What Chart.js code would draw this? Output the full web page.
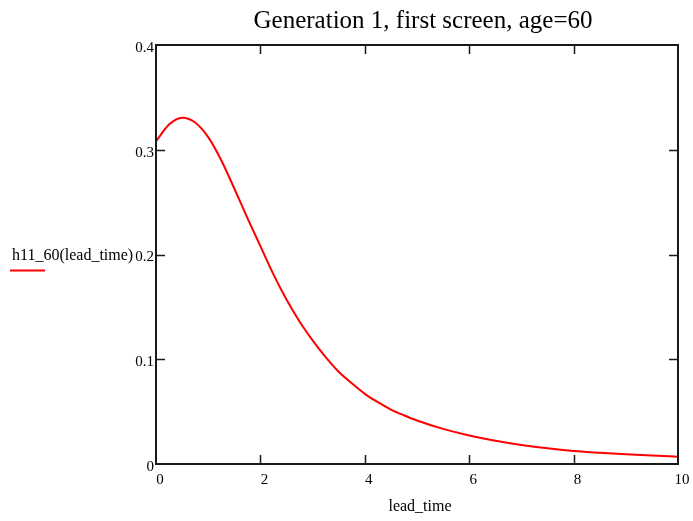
<!DOCTYPE html>
<html>
<head>
<meta charset="utf-8">
<script src="https://cdn.jsdelivr.net/npm/chart.js@4.4.1/dist/chart.umd.min.js"></script>
<style>
  html, body { margin: 0; padding: 0; background: #ffffff; }
  #wrap { width: 693px; height: 521px; }
</style>
</head>
<body>
<div id="wrap"><canvas id="c" width="693" height="521"></canvas></div>
<script>
// ---- Data ----
const chartTitle = "Generation 1, first screen, age=60";
const xAxisLabel = "lead_time";
const seriesLabel = "h11_60(lead_time)";
const leadTime = [0, 0.25, 0.5, 0.75, 1.0, 1.25, 1.5, 1.75, 2.0, 2.25, 2.5, 2.75, 3.0, 3.25, 3.5, 3.75, 4.0, 4.25, 4.5, 4.75, 5.0, 5.5, 6.0, 6.5, 7.0, 7.5, 8.0, 8.5, 9.0, 9.5, 10.0];
const h11Values = [0.308, 0.324, 0.3305, 0.326, 0.312, 0.290, 0.263, 0.235, 0.208, 0.181, 0.157, 0.136, 0.118, 0.102, 0.088, 0.077, 0.067, 0.059, 0.052, 0.0465, 0.0415, 0.0335, 0.0272, 0.0222, 0.0182, 0.015, 0.0125, 0.0107, 0.0092, 0.008, 0.007];
const xTickValues = [0, 2, 4, 6, 8, 10];
const xTickLabels = ["0", "2", "4", "6", "8", "10"];
const yTickValues = [0, 0.1, 0.2, 0.3, 0.4];
const yTickLabels = ["0", "0.1", "0.2", "0.3", "0.4"];

const SERIF = "'Liberation Serif', 'Times New Roman', Times, serif";

const points = leadTime.map((x, i) => ({ x: x, y: h11Values[i] }));

function labelFor(values, labels, v) {
  for (let i = 0; i < values.length; i++) {
    if (Math.abs(values[i] - v) < 1e-9) return labels[i];
  }
  return "";
}

const framePlugin = {
  id: "framePlugin",
  afterDraw(chart) {
    const ctx = chart.ctx;
    const a = chart.chartArea;
    const xs = chart.scales.x, ys = chart.scales.y;
    ctx.save();
    // frame
    ctx.strokeStyle = "#1a1a1a";
    ctx.lineWidth = 2;
    ctx.strokeRect(a.left, a.top, a.right - a.left, a.bottom - a.top);
    // inward ticks
    ctx.lineWidth = 1.5;
    ctx.beginPath();
    const tl = 9;
    xTickValues.forEach(v => {
      if (v === xTickValues[0] || v === xTickValues[xTickValues.length - 1]) return;
      const px = Math.round(xs.getPixelForValue(v)) + 0.5;
      ctx.moveTo(px, a.bottom); ctx.lineTo(px, a.bottom - tl);
      ctx.moveTo(px, a.top); ctx.lineTo(px, a.top + tl);
    });
    yTickValues.forEach(v => {
      if (v === yTickValues[0] || v === yTickValues[yTickValues.length - 1]) return;
      const py = Math.round(ys.getPixelForValue(v)) + 0.5;
      ctx.moveTo(a.left, py); ctx.lineTo(a.left + tl, py);
      ctx.moveTo(a.right, py); ctx.lineTo(a.right - tl, py);
    });
    ctx.stroke();

    // title
    ctx.fillStyle = "#000";
    ctx.font = "25px " + SERIF;
    ctx.textAlign = "center";
    ctx.textBaseline = "alphabetic";
    ctx.fillText(chartTitle, 423, 28);

    // x axis label
    ctx.font = "16px " + SERIF;
    ctx.fillText(xAxisLabel, 420, 511);

    // series label at left with legend line
    ctx.font = "16px " + SERIF;
    ctx.textAlign = "left";
    ctx.fillText(seriesLabel, 12, 260);
    ctx.strokeStyle = "#ff0000";
    ctx.lineWidth = 2;
    ctx.beginPath();
    ctx.moveTo(10, 270.5); ctx.lineTo(45, 270.5);
    ctx.stroke();
    ctx.restore();
  }
};

new Chart(document.getElementById("c"), {
  type: "line",
  data: {
    datasets: [{
      label: seriesLabel,
      data: points,
      borderColor: "#ff0000",
      backgroundColor: "#ff0000",
      borderWidth: 2,
      pointRadius: 0,
      fill: false,
      cubicInterpolationMode: "monotone"
    }]
  },
  options: {
    responsive: false,
    animation: false,
    devicePixelRatio: 1,
    layout: { padding: { left: 0, top: 45, right: 15, bottom: 0 } },
    plugins: {
      legend: { display: false },
      title: { display: false },
      tooltip: { enabled: false }
    },
    scales: {
      x: {
        type: "linear",
        min: 0, max: 10,
        afterFit(s) { s.height = 57; },
        afterBuildTicks(s) { s.ticks = xTickValues.map(v => ({ value: v })); },
        grid: { display: false, drawTicks: false },
        border: { display: false },
        ticks: {
          color: "#000",
          font: { family: SERIF, size: 15 },
          padding: 7,
          labelOffset: 4,
          maxRotation: 0,
          autoSkip: false,
          callback: v => labelFor(xTickValues, xTickLabels, v)
        }
      },
      y: {
        type: "linear",
        min: 0, max: 0.4,
        afterFit(s) { s.width = 156; },
        afterBuildTicks(s) { s.ticks = yTickValues.map(v => ({ value: v })); },
        grid: { display: false, drawTicks: false },
        border: { display: false },
        ticks: {
          color: "#000",
          font: { family: SERIF, size: 15 },
          padding: 2,
          labelOffset: 3,
          autoSkip: false,
          callback: v => labelFor(yTickValues, yTickLabels, v)
        }
      }
    }
  },
  plugins: [framePlugin]
});
</script>
</body>
</html>
